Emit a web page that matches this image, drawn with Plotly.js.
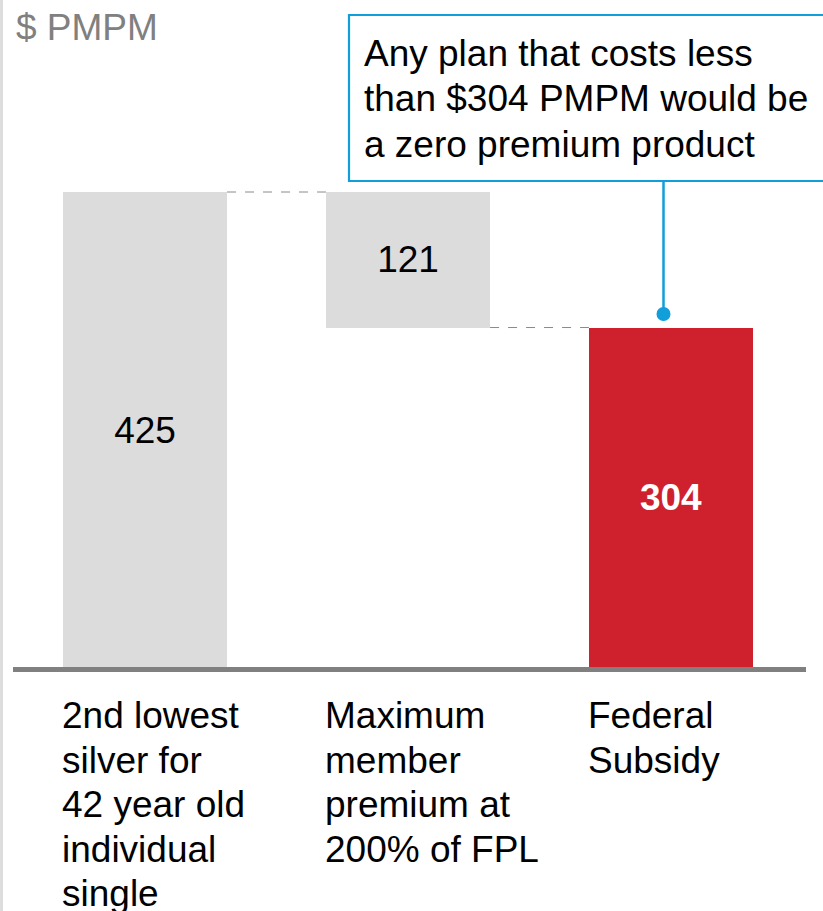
<!DOCTYPE html>
<html>
<head>
<meta charset="utf-8">
<script src="https://cdn.plot.ly/plotly-3.0.1.min.js"></script>
<style>html,body{margin:0;padding:0;background:#fff;}#chart{width:823px;height:911px;}</style>
</head>
<body>
<div id="chart"></div>
<script>
const categories = ["c1", "c2", "c3"];
const categoryLabels = [
  ["2nd lowest", "silver for", "42 year old", "individual", "single"],
  ["Maximum", "member", "premium at", "200% of FPL"],
  ["Federal", "Subsidy"]
];
const totalCost = 425;
const memberPremium = 121;
const subsidy = totalCost - memberPremium; // 304
const values = [totalCost, memberPremium, subsidy];
const bases = [0, subsidy, 0];
const valueLabels = ["425", "121", "<b>304</b>"];
const barColors = ["#dcdcdc", "#dcdcdc", "#cf202e"];
const textColors = ["#000000", "#000000", "#ffffff"];
const unitLabel = "$ PMPM";
const calloutLines = ["Any plan that costs less", "than $304 PMPM would be", "a zero premium product"];

const W = 823, H = 911;
const FONT = "Liberation Sans, Arial, Helvetica, sans-serif";
const barW = 0.624;
const px = v => v / W;
const py = v => 1 - v / 668; // paper y relative to plot area (plot area from 0 to 668 px)

const trace = {
  type: "bar",
  x: [0, 1, 2],
  y: values,
  base: bases,
  width: barW,
  marker: {color: barColors, line: {width: 0}},
  text: valueLabels,
  textposition: "inside",
  insidetextanchor: "middle",
  textangle: 0,
  constraintext: "none",
  textfont: {family: FONT, size: 37, color: textColors},
  hoverinfo: "skip"
};

const shapes = [
  {type: "line", xref: "paper", yref: "paper", x0: px(1.5), x1: px(1.5), y0: py(0), y1: py(H), line: {color: "#dddddd", width: 3}},
  {type: "line", xref: "paper", yref: "paper", x0: px(13), x1: px(806), y0: py(669.5), y1: py(669.5), line: {color: "#808080", width: 5}},
  {type: "line", xref: "x", yref: "y", x0: 0 + barW/2, x1: 1 - barW/2, y0: totalCost, y1: totalCost, line: {color: "#8a8a8a", width: 1, dash: "dash"}},
  {type: "line", xref: "x", yref: "y", x0: 1 + barW/2, x1: 2 - barW/2, y0: subsidy, y1: subsidy, line: {color: "#8a8a8a", width: 1, dash: "dash"}},
  {type: "rect", xref: "paper", yref: "paper", x0: px(349), x1: px(830), y0: py(15), y1: py(181), line: {color: "#109fda", width: 2.2}, fillcolor: "rgba(0,0,0,0)"},
  {type: "line", xref: "paper", yref: "paper", x0: px(663.5), x1: px(663.5), y0: py(181), y1: py(312), line: {color: "#109fda", width: 2.5}},
  {type: "circle", xref: "paper", yref: "paper", x0: px(656.5), x1: px(670.5), y0: py(307), y1: py(321), line: {color: "#109fda", width: 0}, fillcolor: "#109fda"}
];

const annotations = [
  {xref: "paper", yref: "paper", x: px(14), y: py(27), xanchor: "left", yanchor: "middle", text: unitLabel, showarrow: false, font: {family: FONT, size: 37, color: "#808080"}}
];
calloutLines.forEach((t, j) => {
  annotations.push({xref: "paper", yref: "paper", x: px(362), y: py(53 + j * 45.5), xanchor: "left", yanchor: "middle", align: "left", text: t, showarrow: false, font: {family: FONT, size: 37, color: "#000000"}});
});
categoryLabels.forEach((lines, i) => {
  lines.forEach((t, j) => {
    annotations.push({xref: "x", yref: "paper", x: i - barW/2, y: py(716 + j * 44.4), xanchor: "left", yanchor: "middle", align: "left", xshift: -3, text: t, showarrow: false, font: {family: FONT, size: 37, color: "#000000"}});
  });
});

const layout = {
  width: W, height: H,
  margin: {l: 0, r: 0, t: 0, b: H - 668, pad: 0},
  paper_bgcolor: "#ffffff", plot_bgcolor: "#ffffff",
  showlegend: false,
  bargap: 0,
  xaxis: {range: [-145/263, 2 + 152/263], showgrid: false, zeroline: false, showticklabels: false, ticks: "", showline: false, fixedrange: true},
  yaxis: {range: [0, 668/1.12], showgrid: false, zeroline: false, showticklabels: false, ticks: "", showline: false, fixedrange: true},
  shapes: shapes,
  annotations: annotations,
  font: {family: FONT}
};

Plotly.newPlot("chart", [trace], layout, {displayModeBar: false, staticPlot: true});
</script>
</body>
</html>
